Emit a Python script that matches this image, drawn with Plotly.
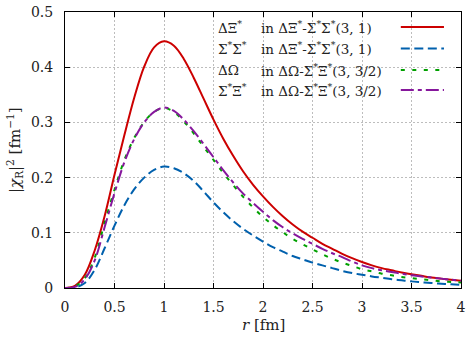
import plotly.graph_objects as go

# r in fm
r = [0.0, 0.1, 0.2, 0.3, 0.4, 0.5, 0.6, 0.7, 0.8, 0.9, 1.0,
     1.1, 1.2, 1.3, 1.4, 1.5, 1.6, 1.7, 1.8, 1.9, 2.0,
     2.1, 2.2, 2.3, 2.4, 2.5, 2.6, 2.7, 2.8, 2.9, 3.0,
     3.1, 3.2, 3.3, 3.4, 3.5, 3.6, 3.7, 3.8, 3.9, 4.0]

# |chi_R|^2 [fm^-1]
dxi_in_dxi = [0.0, 0.004, 0.024, 0.068, 0.130, 0.205, 0.277, 0.345, 0.401, 0.436, 0.447,
              0.439, 0.415, 0.381, 0.343, 0.305, 0.270, 0.239, 0.211, 0.187, 0.166,
              0.147, 0.130, 0.115, 0.102, 0.091, 0.080, 0.071, 0.062, 0.054, 0.047,
              0.041, 0.036, 0.032, 0.028, 0.025, 0.022, 0.019, 0.017, 0.015, 0.013]
ss_in_dxi = [0.0, 0.001, 0.009, 0.033, 0.072, 0.113, 0.150, 0.179, 0.200, 0.214, 0.220,
             0.217, 0.208, 0.194, 0.175, 0.155, 0.137, 0.121, 0.107, 0.095, 0.084,
             0.074, 0.066, 0.058, 0.052, 0.046, 0.041, 0.036, 0.031, 0.027, 0.024,
             0.021, 0.0185, 0.016, 0.014, 0.012, 0.0105, 0.009, 0.0078, 0.0066, 0.0055]
domega_in_do = [0.0, 0.003, 0.018, 0.055, 0.118, 0.178, 0.232, 0.272, 0.301, 0.319, 0.326,
                0.319, 0.302, 0.280, 0.256, 0.232, 0.208, 0.186, 0.165, 0.146, 0.129,
                0.114, 0.101, 0.089, 0.079, 0.070, 0.061, 0.053, 0.046, 0.040, 0.034,
                0.030, 0.026, 0.023, 0.020, 0.018, 0.016, 0.014, 0.012, 0.011, 0.010]
sxi_in_do = [0.0, 0.002, 0.016, 0.050, 0.110, 0.172, 0.228, 0.270, 0.300, 0.319, 0.327,
             0.321, 0.305, 0.284, 0.261, 0.237, 0.213, 0.191, 0.171, 0.154, 0.138,
             0.123, 0.110, 0.099, 0.089, 0.080, 0.071, 0.063, 0.056, 0.048, 0.041,
             0.036, 0.032, 0.029, 0.026, 0.023, 0.021, 0.019, 0.017, 0.015, 0.013]

col1 = ["ΔΞ<sup>*</sup>", "Σ<sup>*</sup>Σ<sup>*</sup>", "ΔΩ", "Σ<sup>*</sup>Ξ<sup>*</sup>"]
col2 = ["in ΔΞ<sup>*</sup>-Σ<sup>*</sup>Σ<sup>*</sup>(3, 1)",
        "in ΔΞ<sup>*</sup>-Σ<sup>*</sup>Σ<sup>*</sup>(3, 1)",
        "in ΔΩ-Σ<sup>*</sup>Ξ<sup>*</sup>(3, 3/2)",
        "in ΔΩ-Σ<sup>*</sup>Ξ<sup>*</sup>(3, 3/2)"]

FONT = "DejaVu Serif"
TXT = "#222"

styles = [
    dict(color="#cc0000", dash="solid", width=2),
    dict(color="#0060ad", dash="9px,4.5px", width=2),
    dict(color="#00a000", dash="4px,7.5px", width=2),
    dict(color="#86179c", dash="13px,4px,4px,4px", width=2),
]
series = [dxi_in_dxi, ss_in_dxi, domega_in_do, sxi_in_do]

fig = go.Figure()
for ys, st in zip(series, styles):
    fig.add_trace(go.Scatter(x=r, y=ys, mode="lines", line=st,
                             line_shape="spline", showlegend=False))

# legend box (drawn by hand, sample lines on the right)
fig.add_shape(type="rect", xref="paper", yref="paper", x0=0.36, x1=0.997,
              y0=0.68, y1=0.997, fillcolor="white", line_width=0, layer="between")
row_y = [0.946, 0.868, 0.790, 0.717]
for i, st in enumerate(styles):
    fig.add_annotation(x=0.381, y=row_y[i], xref="paper", yref="paper", text=col1[i],
                       showarrow=False, xanchor="left", yanchor="middle",
                       font=dict(family=FONT, size=13.5, color=TXT))
    fig.add_annotation(x=0.490, y=row_y[i], xref="paper", yref="paper", text=col2[i],
                       showarrow=False, xanchor="left", yanchor="middle",
                       font=dict(family=FONT, size=13.5, color=TXT))
    fig.add_shape(type="line", xref="paper", yref="paper", x0=0.848, x1=0.957,
                  y0=row_y[i], y1=row_y[i], line=st, layer="above")

# axis titles
fig.add_annotation(x=0.5, y=0, xref="paper", yref="paper", yshift=-26,
                   text="<i>r</i> [fm]", showarrow=False, yanchor="top",
                   font=dict(family=FONT, size=15, color=TXT))
fig.add_annotation(x=0, y=0.5, xref="paper", yref="paper", xshift=-51,
                   text="|<i>χ</i><sub>R</sub>|<sup>2</sup> [fm<sup>−1</sup>]",
                   showarrow=False, textangle=-90, xanchor="center",
                   font=dict(family=FONT, size=15, color=TXT))

axis_common = dict(
    showline=True, linecolor="black", linewidth=1, mirror="ticks",
    ticks="inside", ticklen=5, tickcolor="black", automargin=False,
    showgrid=True, gridcolor="#bdbdbd", gridwidth=1, griddash="2px,2px",
    zeroline=False, tickfont=dict(family=FONT, size=14, color=TXT),
)
fig.update_xaxes(range=[0, 4], tickvals=[0, 0.5, 1, 1.5, 2, 2.5, 3, 3.5, 4],
                 ticktext=["0", "0.5", "1", "1.5", "2", "2.5", "3", "3.5", "4"],
                 ticklabelstandoff=6, **axis_common)
fig.update_yaxes(range=[0, 0.5], tickvals=[0, 0.1, 0.2, 0.3, 0.4, 0.5],
                 ticktext=["0", "0.1", "0.2", "0.3", "0.4", "0.5"],
                 ticklabelstandoff=8, **axis_common)

fig.update_layout(
    width=469, height=338,
    margin=dict(l=65, r=8, t=12, b=50),
    plot_bgcolor="white", paper_bgcolor="white",
)

# page body has a default 8px margin; drop it so the figure sits at the top-left
fig.write_html("out.html", config={"displayModeBar": False},
               post_script="document.body.style.margin='0';")
